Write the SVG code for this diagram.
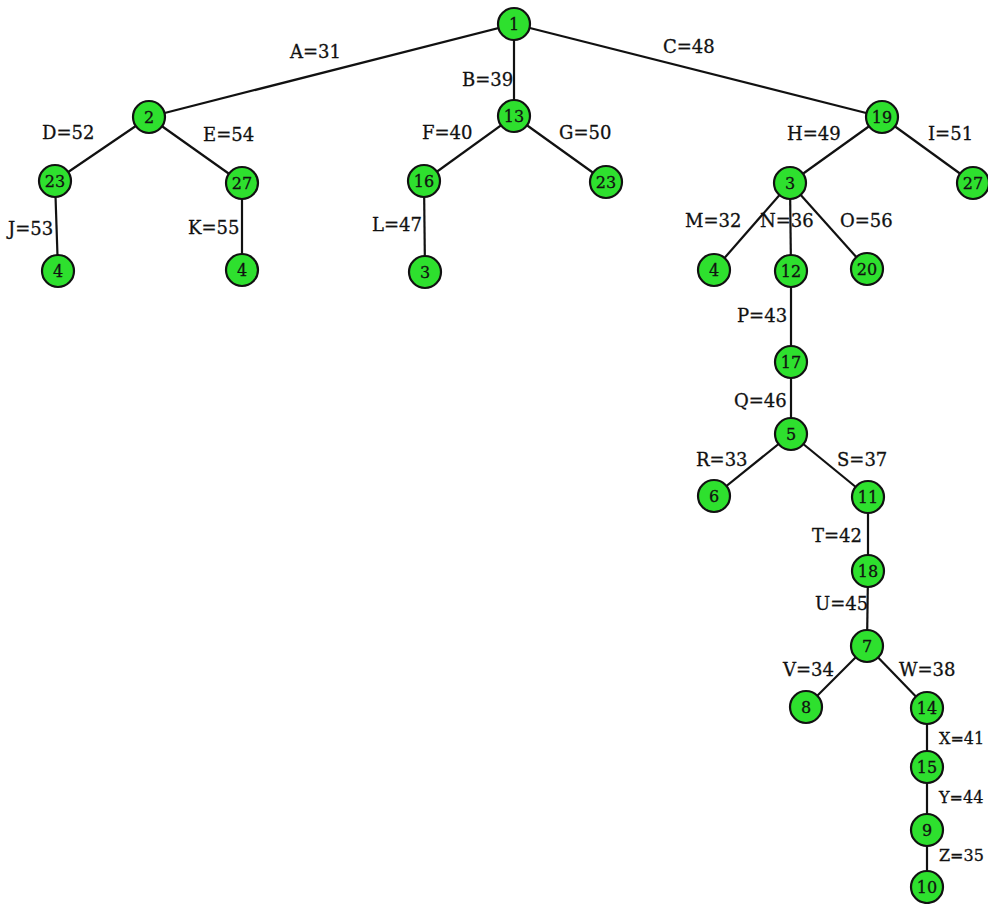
<svg xmlns="http://www.w3.org/2000/svg" width="988" height="904" viewBox="0 0 988 904">
<style>
.e{stroke:#111;stroke-width:2.2;fill:none}
.n circle{fill:#2ee02e;stroke:#111;stroke-width:2.2}
.n text{font-family:"DejaVu Serif","Liberation Serif",serif;font-size:16px;fill:#111;stroke:#111;stroke-width:0.3;text-anchor:middle}
.l{font-family:"DejaVu Serif","Liberation Serif",serif;font-size:18px;fill:#111;stroke:#111;stroke-width:0.3}
.s{font-size:16px}
</style>
<rect width="988" height="904" fill="#fff"/>
<g id="edges">
<line class="e" x1="514" y1="24" x2="149" y2="117"/>
<line class="e" x1="514" y1="24" x2="514" y2="116"/>
<line class="e" x1="514" y1="24" x2="882" y2="117"/>
<line class="e" x1="149" y1="117" x2="55" y2="181"/>
<line class="e" x1="149" y1="117" x2="242" y2="183"/>
<line class="e" x1="55" y1="181" x2="58" y2="271"/>
<line class="e" x1="242" y1="183" x2="242" y2="270"/>
<line class="e" x1="514" y1="116" x2="424" y2="181"/>
<line class="e" x1="514" y1="116" x2="606" y2="182"/>
<line class="e" x1="424" y1="181" x2="425" y2="272"/>
<line class="e" x1="882" y1="117" x2="790" y2="183"/>
<line class="e" x1="882" y1="117" x2="973" y2="183"/>
<line class="e" x1="790" y1="183" x2="714" y2="270"/>
<line class="e" x1="790" y1="183" x2="791" y2="271"/>
<line class="e" x1="790" y1="183" x2="867" y2="269"/>
<line class="e" x1="791" y1="271" x2="791" y2="362"/>
<line class="e" x1="791" y1="362" x2="791" y2="434"/>
<line class="e" x1="791" y1="434" x2="714" y2="496"/>
<line class="e" x1="791" y1="434" x2="868" y2="497"/>
<line class="e" x1="868" y1="497" x2="868" y2="571"/>
<line class="e" x1="868" y1="571" x2="867" y2="646"/>
<line class="e" x1="867" y1="646" x2="806" y2="707"/>
<line class="e" x1="867" y1="646" x2="927" y2="708"/>
<line class="e" x1="927" y1="708" x2="927" y2="767"/>
<line class="e" x1="927" y1="767" x2="927" y2="830"/>
<line class="e" x1="927" y1="830" x2="927" y2="887"/>
</g>
<g id="labels">
<text class="l" x="290" y="58">A=31</text>
<text class="l" x="462" y="86">B=39</text>
<text class="l" x="663" y="53">C=48</text>
<text class="l" x="42" y="139">D=52</text>
<text class="l" x="203" y="141">E=54</text>
<text class="l" x="422" y="139">F=40</text>
<text class="l" x="559" y="139">G=50</text>
<text class="l" x="787" y="140">H=49</text>
<text class="l" x="928" y="140">I=51</text>
<text class="l" x="8" y="235">J=53</text>
<text class="l" x="188" y="234">K=55</text>
<text class="l" x="372" y="231">L=47</text>
<text class="l" x="685" y="227">M=32</text>
<text class="l" x="760" y="227">N=36</text>
<text class="l" x="840" y="227">O=56</text>
<text class="l" x="737" y="322">P=43</text>
<text class="l" x="734" y="407">Q=46</text>
<text class="l" x="696" y="466">R=33</text>
<text class="l" x="837" y="466">S=37</text>
<text class="l" x="812" y="542">T=42</text>
<text class="l" x="815" y="610">U=45</text>
<text class="l" x="783" y="676">V=34</text>
<text class="l" x="899" y="676">W=38</text>
<text class="l s" x="939" y="744">X=41</text>
<text class="l s" x="939" y="803">Y=44</text>
<text class="l s" x="939" y="861">Z=35</text>
</g>
<g id="n1" class="n"><circle cx="514" cy="24" r="16"/><text x="514" y="30">1</text></g>
<g id="n2" class="n"><circle cx="149" cy="117" r="16"/><text x="149" y="123">2</text></g>
<g id="n13" class="n"><circle cx="514" cy="116" r="16"/><text x="514" y="122">13</text></g>
<g id="n19" class="n"><circle cx="882" cy="117" r="16"/><text x="882" y="123">19</text></g>
<g id="n23a" class="n"><circle cx="55" cy="181" r="16"/><text x="55" y="187">23</text></g>
<g id="n27a" class="n"><circle cx="242" cy="183" r="16"/><text x="242" y="189">27</text></g>
<g id="n4a" class="n"><circle cx="58" cy="271" r="16"/><text x="58" y="277">4</text></g>
<g id="n4b" class="n"><circle cx="242" cy="270" r="16"/><text x="242" y="276">4</text></g>
<g id="n16" class="n"><circle cx="424" cy="181" r="16"/><text x="424" y="187">16</text></g>
<g id="n23b" class="n"><circle cx="606" cy="182" r="16"/><text x="606" y="188">23</text></g>
<g id="n3a" class="n"><circle cx="425" cy="272" r="16"/><text x="425" y="278">3</text></g>
<g id="n3b" class="n"><circle cx="790" cy="183" r="16"/><text x="790" y="189">3</text></g>
<g id="n27b" class="n"><circle cx="973" cy="183" r="16"/><text x="973" y="189">27</text></g>
<g id="n4c" class="n"><circle cx="714" cy="270" r="16"/><text x="714" y="276">4</text></g>
<g id="n12" class="n"><circle cx="791" cy="271" r="16"/><text x="791" y="277">12</text></g>
<g id="n20" class="n"><circle cx="867" cy="269" r="16"/><text x="867" y="275">20</text></g>
<g id="n17" class="n"><circle cx="791" cy="362" r="16"/><text x="791" y="368">17</text></g>
<g id="n5" class="n"><circle cx="791" cy="434" r="16"/><text x="791" y="440">5</text></g>
<g id="n6" class="n"><circle cx="714" cy="496" r="16"/><text x="714" y="502">6</text></g>
<g id="n11" class="n"><circle cx="868" cy="497" r="16"/><text x="868" y="503">11</text></g>
<g id="n18" class="n"><circle cx="868" cy="571" r="16"/><text x="868" y="577">18</text></g>
<g id="n7" class="n"><circle cx="867" cy="646" r="16"/><text x="867" y="652">7</text></g>
<g id="n8" class="n"><circle cx="806" cy="707" r="16"/><text x="806" y="713">8</text></g>
<g id="n14" class="n"><circle cx="927" cy="708" r="16"/><text x="927" y="714">14</text></g>
<g id="n15" class="n"><circle cx="927" cy="767" r="16"/><text x="927" y="773">15</text></g>
<g id="n9" class="n"><circle cx="927" cy="830" r="16"/><text x="927" y="836">9</text></g>
<g id="n10" class="n"><circle cx="927" cy="887" r="16"/><text x="927" y="893">10</text></g>
</svg>
